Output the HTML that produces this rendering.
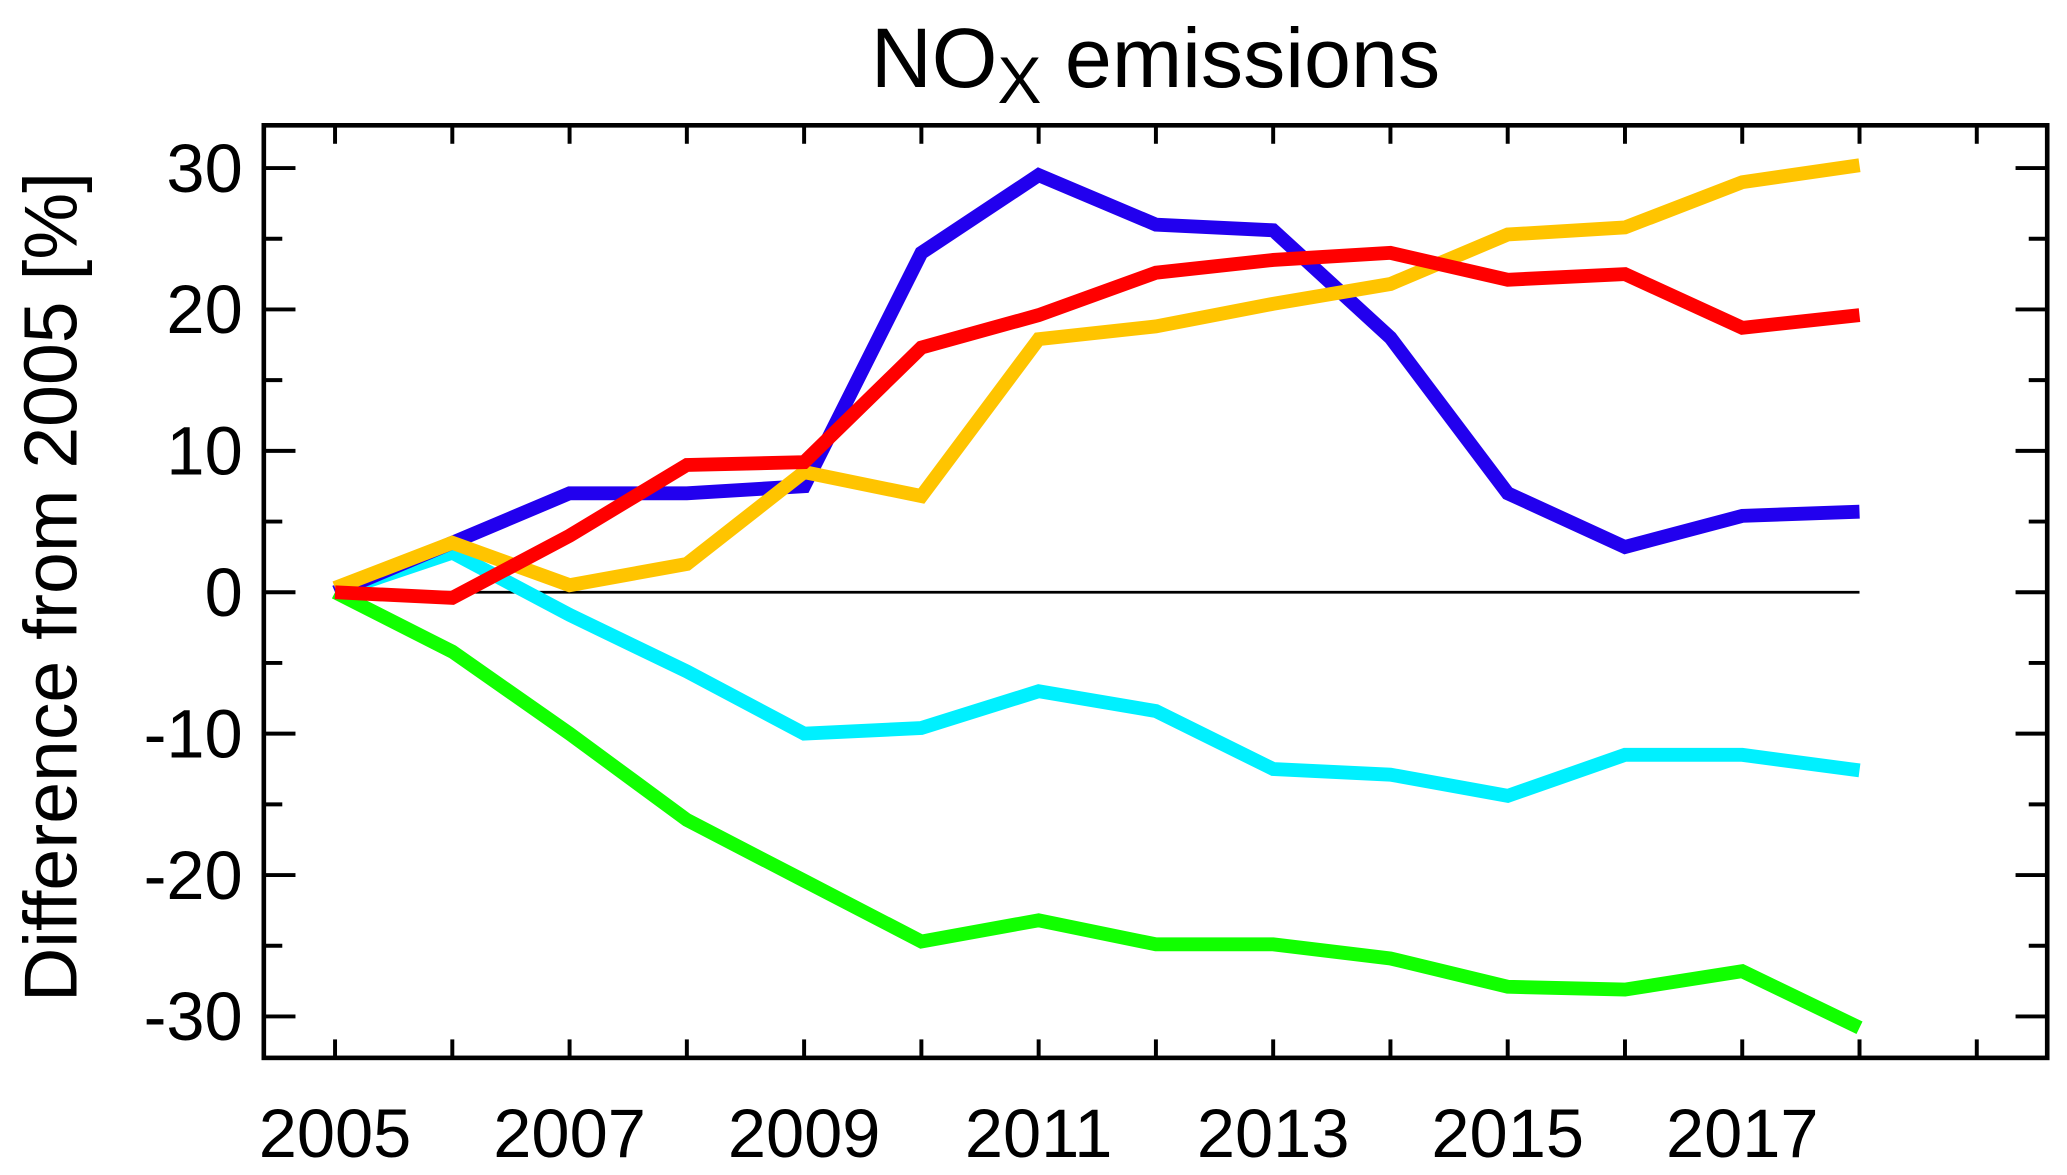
<!DOCTYPE html>
<html><head><meta charset="utf-8"><style>
html,body{margin:0;padding:0;background:#fff;}
svg{display:block;font-family:"Liberation Sans",sans-serif;}
</style></head><body>
<svg id="chart" width="2067" height="1175" viewBox="0 0 1567 890.8" preserveAspectRatio="none" xmlns="http://www.w3.org/2000/svg">
<text x="876" y="66" font-size="64" text-anchor="middle">NO<tspan font-size="50" dy="12">X</tspan><tspan dy="-12"> emissions</tspan></text>
<text transform="translate(58,445) rotate(-90)" font-size="57" text-anchor="middle">Difference from 2005 [%]</text>
<g id="grid"></g>
<g id="series"></g>
<rect x="200" y="95" width="1352" height="707" fill="none" stroke="#000" stroke-width="3.5"/>
<g id="axes"></g>
</svg>
<script>
const years = [2005,2006,2007,2008,2009,2010,2011,2012,2013,2014,2015,2016,2017,2018];
const xTickLabels = [2005,2007,2009,2011,2013,2015,2017];
const yTickLabels = [30,20,10,0,-10,-20,-30];
const seriesBlue = [0,3.5,7,7,7.5,24,29.5,26,25.6,18,7,3.2,5.4,5.7];
const seriesRed = [0,-0.4,4,9,9.2,17.3,19.6,22.6,23.5,24,22.1,22.5,18.7,19.6];
const seriesOrange = [0.3,3.5,0.5,2,8.5,6.8,17.9,18.8,20.4,21.8,25.3,25.8,29,30.2];
const seriesCyan = [0,2.8,-1.6,-5.6,-10,-9.6,-7,-8.4,-12.5,-12.9,-14.4,-11.5,-11.5,-12.6];
const seriesGreen = [0,-4.2,-10,-16.1,-20.4,-24.7,-23.2,-24.9,-24.9,-25.9,-27.9,-28.1,-26.8,-30.8];

const NS = "http://www.w3.org/2000/svg";
const X = y => 254 + (y - 2005) * 88.9;
const Y = v => 449 - v * 10.72;
function mk(tag, attrs, parent){const e=document.createElementNS(NS,tag);for(const k in attrs)e.setAttribute(k,attrs[k]);parent.appendChild(e);return e;}
const axes=document.getElementById('axes'), grid=document.getElementById('grid'), series=document.getElementById('series');

const zl = mk('line',{x1:X(2005),x2:X(2018),y1:Y(0),y2:Y(0),stroke:'#000','stroke-width':2},grid);



for(let yr=2005; yr<=2019; yr++){
  const x=X(yr);
  const t1=mk('line',{x1:x,x2:x,y1:802,y2:788,stroke:'#000','stroke-width':3},axes);
  
  
  const t2=mk('line',{x1:x,x2:x,y1:95,y2:109,stroke:'#000','stroke-width':3},axes);
  
  
}
xTickLabels.forEach(yr=>{
  const t=mk('text',{x:X(yr),y:877,'font-size':52,'text-anchor':'middle'},axes);
  t.textContent=yr;
  
  
});
for(let v=-30; v<=30; v+=5){
  const y=Y(v), len = (v%10===0)?24:14;
  const a=mk('line',{x1:200,x2:200+len,y1:y,y2:y,stroke:'#000','stroke-width':3},axes);
  
  
  const b=mk('line',{x1:1552,x2:1552-len,y1:y,y2:y,stroke:'#000','stroke-width':3},axes);
  
  
}
yTickLabels.forEach(v=>{
  const t=mk('text',{x:184,y:Y(v)+18,'font-size':52,'text-anchor':'end'},axes);
  t.textContent=v;
  
  
});
function draw(vals,color,name){
  const p=mk('polyline',{points:vals.map((v,i)=>X(years[i])+','+Y(v)).join(' '),fill:'none',stroke:color,'stroke-width':10.5,'stroke-linejoin':'miter'},series);
  
  
}
draw(seriesGreen,'#11ff00','series-green');
draw(seriesCyan,'#00f0ff','series-cyan');
draw(seriesBlue,'#2200ee','series-blue');
draw(seriesOrange,'#ffc400','series-orange');
draw(seriesRed,'#ff0000','series-red');
</script>
</body></html>
